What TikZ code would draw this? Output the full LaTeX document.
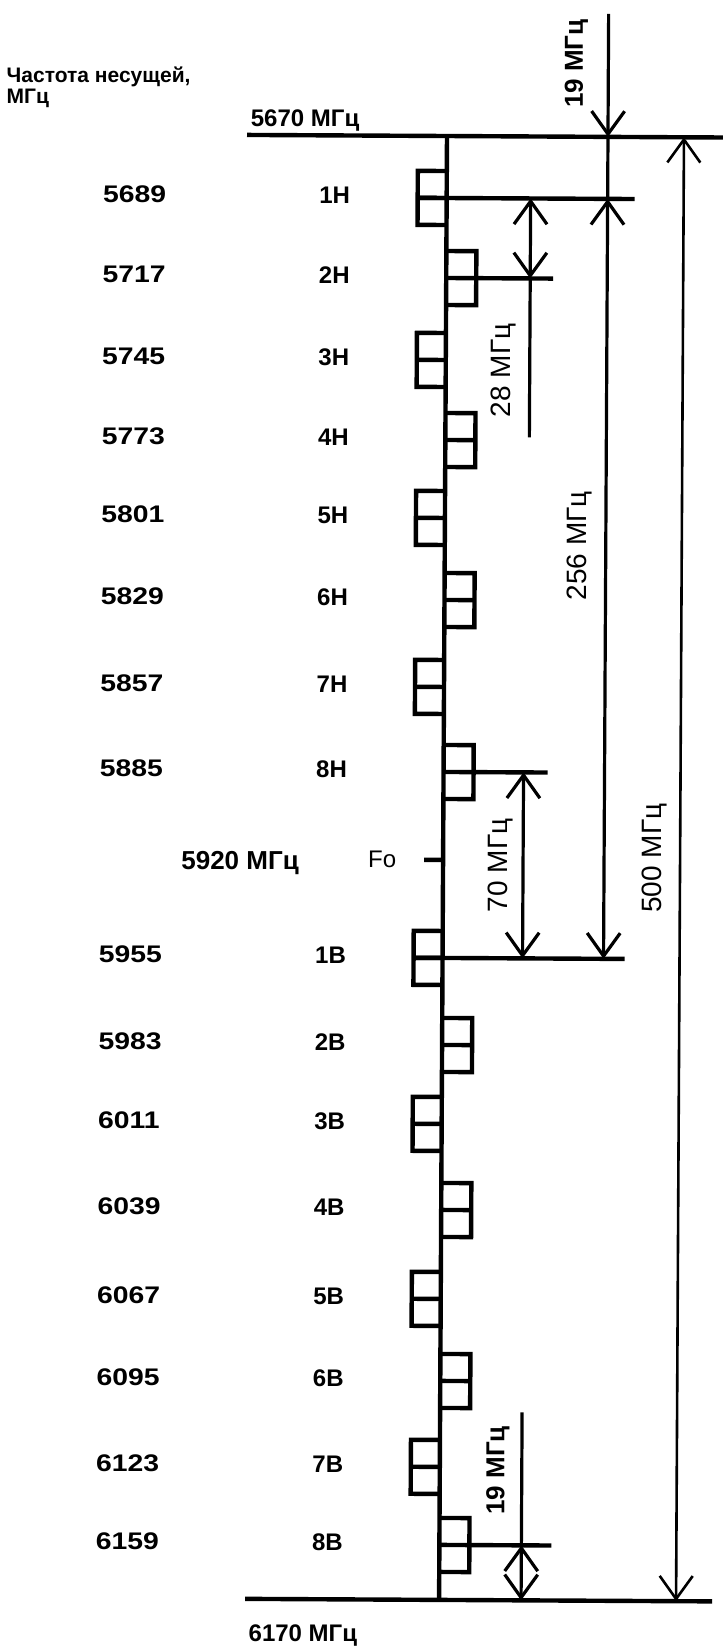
\documentclass[tikz,border=0pt]{standalone}
\usepackage{fontspec}
\setmainfont{Liberation Sans}
\newfontfamily\widefont[FakeStretch=1.18]{Liberation Sans}
\usetikzlibrary{arrows.meta}
\begin{document}
\begin{tikzpicture}[x=0.5pt,y=-0.5pt,
  >={Straight Barb[length=11.5pt,width=16.5pt]},
  ln/.style={line width=2.2pt},
  dimln/.style={line width=1.6pt},
  thinln/.style={line width=1.3pt},
  freqlab/.style={anchor=west,inner sep=0pt,font=\widefont\bfseries\fontsize{12}{14}\selectfont},
  chanlab/.style={anchor=center,inner sep=0pt,font=\bfseries\fontsize{12}{14}\selectfont},
  txtlab/.style={inner sep=0pt,font=\bfseries\fontsize{12}{14}\selectfont},
  dimlab/.style={rotate=90,inner sep=0pt,font=\fontsize{14}{16}\selectfont},
  dimlabb/.style={rotate=90,inner sep=0pt,font=\bfseries\fontsize{13}{16}\selectfont},
]
\useasboundingbox (0,0) rectangle (723,1646);

\begin{scope}[rotate around={-0.31:(447,136)}]
% titles and limit labels
\node[txtlab,anchor=west,font=\bfseries\fontsize{10.5}{12}\selectfont] (title1) at (6,79) {Частота несущей,};
\node[txtlab,anchor=west,font=\bfseries\fontsize{10.5}{12}\selectfont] (title2) at (6,101) {МГц};
\node[txtlab] (ftop) at (305,121) {5670 МГц};
\node[txtlab] (fbot) at (311,1636) {6170 МГц};
\node[txtlab,font=\bfseries\fontsize{13}{16}\selectfont] (fzero) at (244,864) {5920 МГц};
\node[inner sep=0pt,font=\fontsize{12}{14}\selectfont] (fzerolab) at (386,860) {Fo};

% frame lines
\coordinate (tl) at (247,136); \coordinate (tr) at (730,136);
\coordinate (bl) at (253,1600); \coordinate (br) at (720,1600);
\coordinate (vtop) at (447,136); \coordinate (vbot) at (447,1600);
\draw[ln] (tl) -- (tr);
\draw[ln] (bl) -- (br);
\draw[ln] (vtop) -- (vbot);

% channels
\foreach \yy/\bx/\f/\c [count=\i] in {
  198/418/5689/1Н, 278/477/5717/2Н, 360/418/5745/3Н, 440/477/5773/4Н,
  518/418/5801/5Н, 600/477/5829/6Н, 687/418/5857/7Н, 772/477/5885/8Н,
  958/418/5955/1В, 1045/477/5983/2В, 1124/418/6011/3В, 1210/477/6039/4В,
  1299/418/6067/5В, 1381/477/6095/6В, 1467/418/6123/7В, 1545/477/6159/8В} {
  \node[freqlab] (f\i) at (103,\yy-2) {\f};
  \node[chanlab] (c\i) at (335,\yy-2) {\c};
  \coordinate (r\i) at (447,\yy);
  \coordinate (o\i) at (\bx,\yy);
  \draw[ln] (447,\yy-27) -- (\bx,\yy-27) -- (\bx,\yy+27) -- (447,\yy+27);
  \draw[ln] (r\i) -- (o\i);
}

% Fo tick
\coordinate (fo1) at (428,860); \coordinate (fo2) at (447,860);
\draw[ln] (fo1) -- (fo2);

% extension lines
\coordinate (e1b) at (635,198);  \draw[ln] (o1) -- (e1b);
\coordinate (e2b) at (554,278);  \draw[ln] (o2) -- (e2b);
\coordinate (e8b) at (551,772);  \draw[ln] (o8) -- (e8b);
\coordinate (e9b) at (629,958);  \draw[ln] (o9) -- (e9b);
\coordinate (e16b) at (559,1545); \draw[ln] (o16) -- (e16b);

% 19 MHz (top) and 256 MHz
\coordinate (d19t) at (608,13);
\coordinate (d19a) at (608,136);
\coordinate (d256a) at (608,198);
\coordinate (d256b) at (608,958);
\draw[dimln,->] (d19t) -- (d19a);
\draw[dimln] (d19a) -- (d256a);
\draw[dimln,<->] (d256a) -- (d256b);
\node[dimlabb] (l19t) at (576,63) {19 МГц};
\node[dimlab] (l256) at (582,545) {256 МГц};

% 28 MHz
\coordinate (d28a) at (531,198);
\coordinate (d28b) at (531,278);
\coordinate (d28c) at (531,437);
\draw[dimln,<->] (d28a) -- (d28b);
\draw[dimln] (d28b) -- (d28c);
\node[dimlab] (l28) at (505,370) {28 МГц};

% 70 MHz
\coordinate (d70a) at (527,772);
\coordinate (d70b) at (527,958);
\draw[dimln,<->] (d70a) -- (d70b);
\node[dimlab] (l70) at (504,865) {70 МГц};

% 500 MHz
\coordinate (d500a) at (684,136);
\coordinate (d500b) at (684,1600);
\draw[thinln,<->] (d500a) -- (d500b);
\node[dimlab] (l500) at (658,857) {500 МГц};

% 19 MHz (bottom)
\coordinate (b19t) at (529,1412);
\coordinate (b19a) at (529,1545);
\coordinate (b19b) at (529,1600);
\draw[dimln] (b19t) -- (b19a);
\draw[dimln,<->] (b19a) -- (b19b);
\node[dimlabb] (l19b) at (505,1470) {19 МГц};
\end{scope}
\end{tikzpicture}
\end{document}
